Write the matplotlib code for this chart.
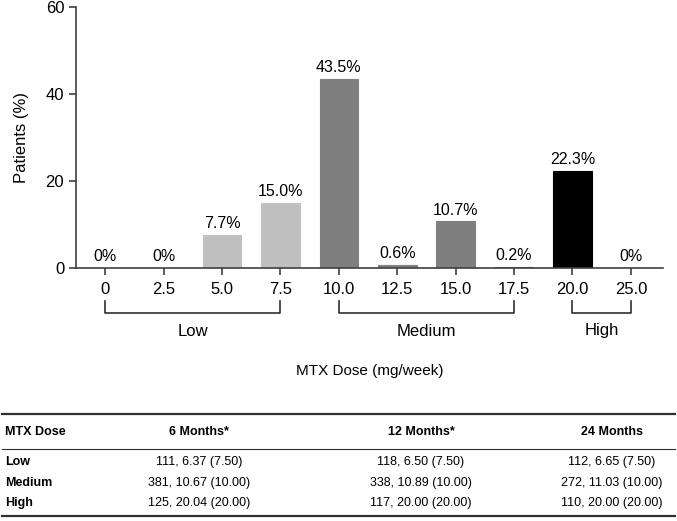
import matplotlib.pyplot as plt
from matplotlib.lines import Line2D
from matplotlib.transforms import blended_transform_factory

plt.rcParams.update({
    'font.family': ['Liberation Sans', 'DejaVu Sans'],
    'font.size': 11,
})

# Bar data
doses = ['0', '2.5', '5.0', '7.5', '10.0', '12.5', '15.0', '17.5', '20.0', '25.0']
patients_pct = [0, 0, 7.7, 15.0, 43.5, 0.6, 10.7, 0.2, 22.3, 0]
value_labels = ['0%', '0%', '7.7%', '15.0%', '43.5%', '0.6%', '10.7%', '0.2%', '22.3%', '0%']
dose_group = ['Low', 'Low', 'Low', 'Low', 'Medium', 'Medium', 'Medium', 'Medium', 'High', 'High']

GROUP_COLORS = {'Low': '#c0c0c0', 'Medium': '#7f7f7f', 'High': '#000000'}
groups = ['Low', 'Medium', 'High']

# Table data
table_header = ['MTX Dose', '6 Months*', '12 Months*', '24 Months']
table_rows = ['Low', 'Medium', 'High']
months_6 = ['111, 6.37 (7.50)', '381, 10.67 (10.00)', '125, 20.04 (20.00)']
months_12 = ['118, 6.50 (7.50)', '338, 10.89 (10.00)', '117, 20.00 (20.00)']
months_24 = ['112, 6.65 (7.50)', '272, 11.03 (10.00)', '110, 20.00 (20.00)']

W, H = 677, 521
fig = plt.figure(figsize=(W / 100, H / 100), dpi=100)
ax = fig.add_axes([76 / W, 1 - 268 / H, (663 - 76) / W, (268 - 7) / H])

x = list(range(len(doses)))
colors = [GROUP_COLORS[g] for g in dose_group]
ax.bar(x, patients_pct, width=0.66, color=colors, edgecolor=colors, linewidth=0.8)
for xi, v, lab in zip(x, patients_pct, value_labels):
    ax.text(xi, v + 0.9, lab, ha='center', va='bottom', fontsize=11.5)

ax.set_xlim(-0.5, 9.55)
ax.set_ylim(0, 60)
ax.set_yticks([0, 20, 40, 60])
ax.set_xticks(x)
ax.set_xticklabels(doses)
for s in ['top', 'right']:
    ax.spines[s].set_visible(False)
for s in ['left', 'bottom']:
    ax.spines[s].set_color('#404040')
    ax.spines[s].set_linewidth(1.2)
ax.tick_params(axis='both', color='#404040', width=1.2, length=5, labelsize=12)
ax.tick_params(axis='x', pad=5)
ax.set_ylabel('Patients (%)', fontsize=12, labelpad=12)

# Group brackets under tick labels
trans = blended_transform_factory(ax.transData, ax.transAxes)
y_top = -(301 - 268) / 261
y_bot = -(313 - 268) / 261
y_lab = -(331 - 268) / 261
for g in groups:
    idx = [i for i, d in enumerate(dose_group) if d == g]
    x0, x1 = idx[0], idx[-1]
    ax.plot([x0, x0, x1, x1], [y_top, y_bot, y_bot, y_top], color='#303030',
            lw=1.2, transform=trans, clip_on=False)
    ax.text((x0 + x1) / 2, y_lab, g, ha='center', va='center',
            fontsize=12, transform=trans)

fig.text(370 / W, 1 - 371 / H, 'MTX Dose (mg/week)', ha='center', va='center',
         fontsize=11)

# Table below the chart
def fy(py):
    return 1 - py / H

for py, lw in [(414, 1.6), (449, 0.8), (516, 1.6)]:
    fig.add_artist(Line2D([2 / W, 675 / W], [fy(py), fy(py)], color='#303030',
                          lw=lw, transform=fig.transFigure))

col_x = [5, 199, 421, 612]
fig.text(col_x[0] / W, fy(432), table_header[0], ha='left', va='center',
         fontsize=9, fontweight='bold')
for cx, h in zip(col_x[1:], table_header[1:]):
    fig.text(cx / W, fy(432), h, ha='center', va='center', fontsize=9,
             fontweight='bold')

row_y = [462, 483, 503]
for ry, name, a, b, c in zip(row_y, table_rows, months_6, months_12, months_24):
    fig.text(col_x[0] / W, fy(ry), name, ha='left', va='center', fontsize=9,
             fontweight='bold')
    for cx, val in zip(col_x[1:], [a, b, c]):
        fig.text(cx / W, fy(ry), val, ha='center', va='center', fontsize=9)

fig.savefig('out.png', dpi=100)
